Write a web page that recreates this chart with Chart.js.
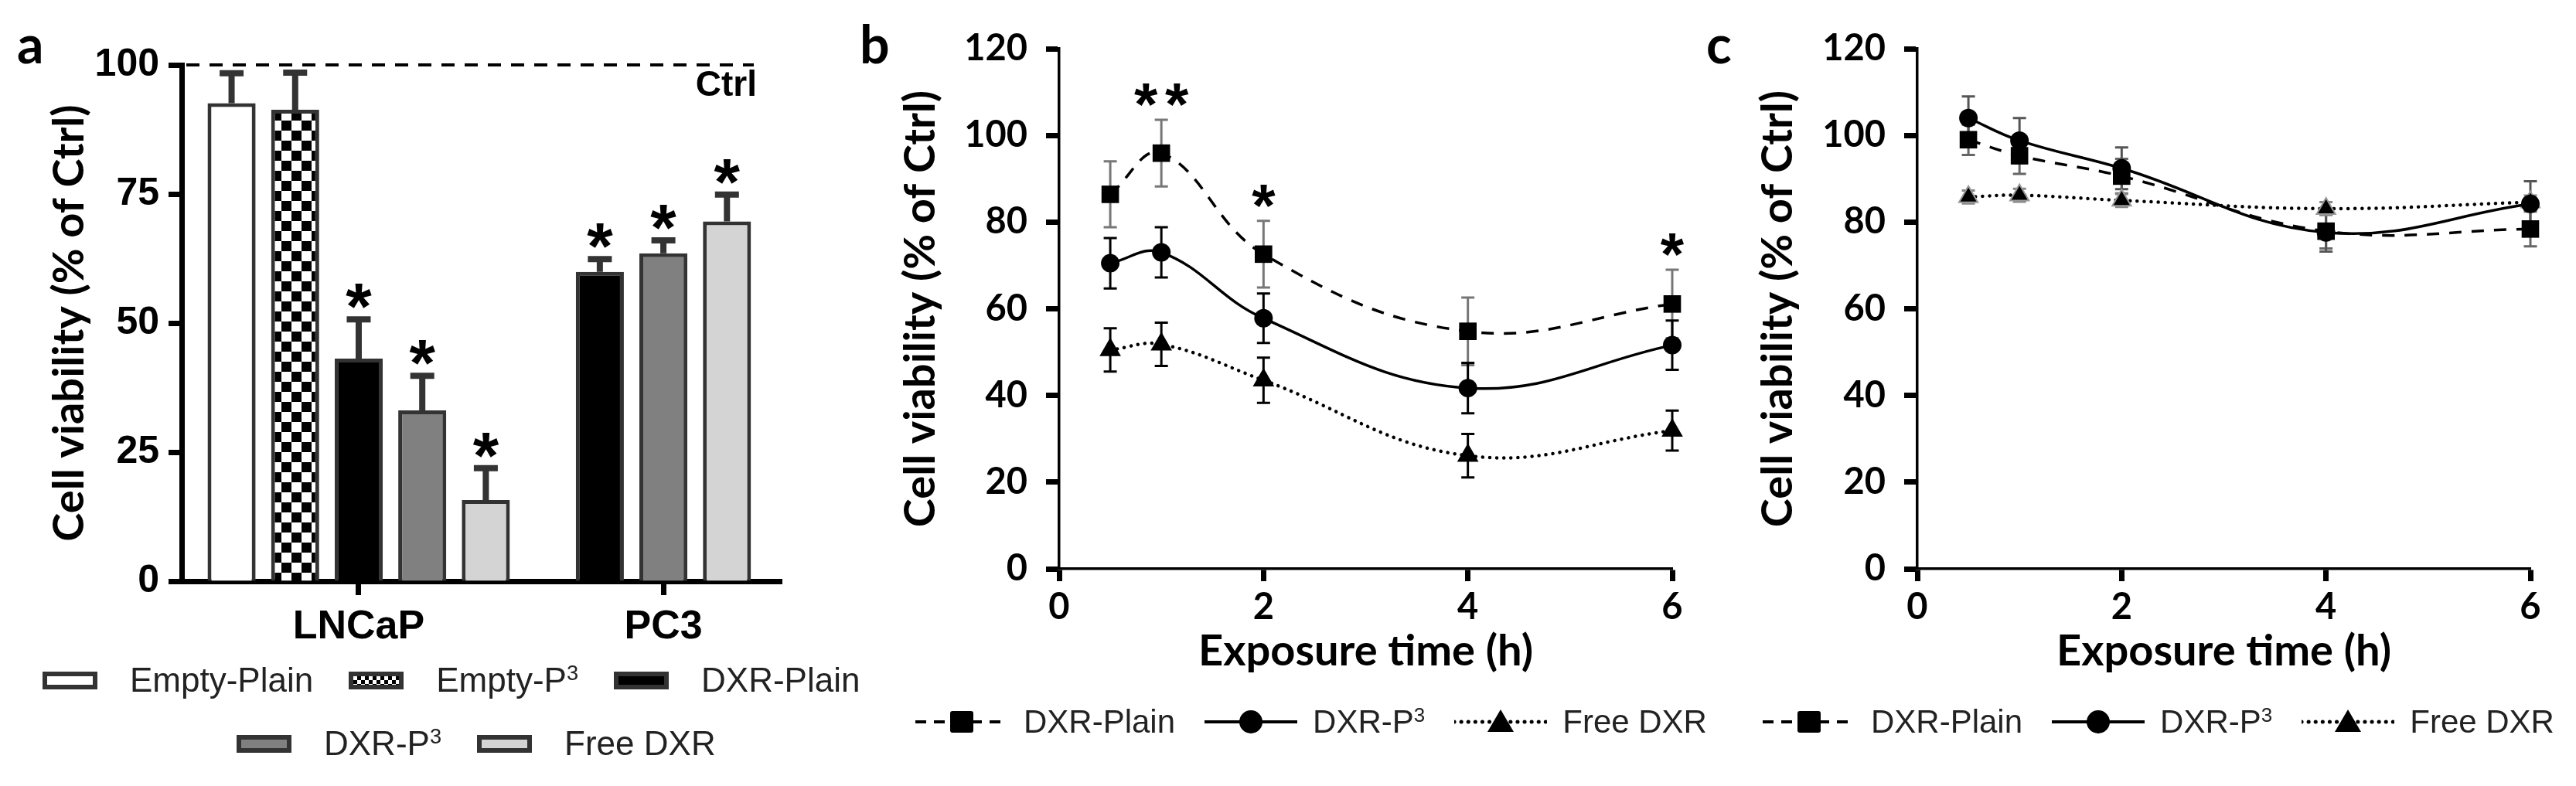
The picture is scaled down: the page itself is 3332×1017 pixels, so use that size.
<!DOCTYPE html>
<html>
<head>
<meta charset="utf-8">
<script src="https://cdn.jsdelivr.net/npm/chart.js@4.4.1/dist/chart.umd.min.js"></script>
<style>
  body { margin: 0; background: #fff; width: 3332px; height: 1017px; position: relative; overflow: hidden; }
  canvas { position: absolute; top: 0; }
  .tag { position: absolute; font: bold 68px Lato, sans-serif; line-height: 1; color: #000; }
  .leg { position: absolute; display: flex; align-items: center; white-space: nowrap; color: #222;
         font-family: 'Liberation Sans', Arial, sans-serif; height: 50px; }
  .leg sup { font-size: 0.62em; vertical-align: 0; position: relative; top: -0.55em; }
  .box { display: inline-block; width: 71px; height: 23px; box-sizing: border-box; border: 6px solid #333; margin-right: 42px; }
  .legA .txt { font-size: 44px; margin-right: 46px; }
  .legL .txt { font-size: 42px; margin-left: 20px; margin-right: 38px; }
</style>
</head>
<body>
<canvas id="chartA" width="1100" height="1017" style="left:0"></canvas>
<canvas id="chartB" width="1100" height="1017" style="left:1100px"></canvas>
<canvas id="chartC" width="1132" height="1017" style="left:2200px"></canvas>
<div class="tag" style="left:22px;top:22px">a</div>
<div class="tag" style="left:1112px;top:22px">b</div>
<div class="tag" style="left:2207px;top:22px">c</div>
<div id="legA1" class="leg legA" style="left:55px;top:855px"></div>
<div id="legA2" class="leg legA" style="left:306px;top:937px"></div>
<div id="legB" class="leg legL" style="left:1184px;top:909px"></div>
<div id="legC" class="leg legL" style="left:2280px;top:909px"></div>

<script>
// Panel a: viability per cell line
var categories = ["LNCaP", "PC3"];
var barSeries = ["Empty-Plain", "Empty-P3", "DXR-Plain", "DXR-P3", "Free DXR"];
var lncapMean = [92.6, 91.3, 43.1, 33.1, 15.7];
var lncapErr = [5.8, 7.2, 7.6, 6.7, 6.2];
var lncapStars = [0, 0, 1, 1, 1];
var pc3Series = ["DXR-Plain", "DXR-P3", "Free DXR"];
var pc3Mean = [59.9, 63.5, 69.7];
var pc3Err = [2.5, 2.5, 5.2];
var pc3Stars = [1, 1, 1];
var ctrlLevel = 100;

// Panels b and c: viability vs exposure time
var lineSeries = ["DXR-Plain", "DXR-P3", "Free DXR"];
var hours = [0.5, 1, 2, 4, 6];
var plainB = [86.4, 95.9, 72.6, 54.8, 61.1];
var plainErrB = [7.6, 7.7, 7.7, 7.8, 7.9];
var plainStarsB = [0, 2, 1, 0, 1];
var p3B = [70.5, 73.0, 57.8, 41.7, 51.6];
var p3ErrB = [5.8, 5.8, 5.7, 5.8, 5.7];
var freeB = [50.5, 51.8, 43.5, 26.1, 31.9];
var freeErrB = [5.0, 5.0, 5.2, 5.0, 4.6];
var plainC = [99.0, 95.3, 90.6, 77.9, 78.4];
var plainErrC = [3.5, 4.2, 4.0, 4.0, 4.0];
var p3C = [104.0, 98.8, 92.4, 77.6, 84.2];
var p3ErrC = [5.0, 5.2, 4.8, 4.4, 5.2];
var freeC = [85.8, 86.2, 85.0, 83.1, 84.6];
var freeErrC = [1.5, 1.5, 1.5, 1.5, 1.5];

var SANS = "'Liberation Sans', Arial, sans-serif";
var BOLD = "Lato, 'Open Sans', sans-serif";

Chart.defaults.color = "#000";
Chart.defaults.animation = false;

function supName(name) {
  return name.replace(/P3$/, "P<sup>3</sup>");
}

// error bars + asterisks, read from the datasets
function drawErrors(chart) {
  var ctx = chart.ctx;
  var y = chart.scales.y;
  chart.data.datasets.forEach(function (ds, i) {
    var meta = chart.getDatasetMeta(i);
    ds.data.forEach(function (v, j) {
      if (v === null || !ds.err || ds.err[j] == null) return;
      var el = meta.data[j];
      var top = y.getPixelForValue(v + ds.err[j]);
      var bottom = y.getPixelForValue(ds.errBoth ? v - ds.err[j] : v);
      var half = ds.capWidth / 2;
      ctx.save();
      ctx.strokeStyle = ds.errColor;
      ctx.lineWidth = ds.errWidth;
      ctx.beginPath();
      ctx.moveTo(el.x, top);
      ctx.lineTo(el.x, bottom);
      ctx.moveTo(el.x - half, top);
      ctx.lineTo(el.x + half, top);
      if (ds.errBoth) {
        ctx.moveTo(el.x - half, bottom);
        ctx.lineTo(el.x + half, bottom);
      }
      ctx.stroke();
      ctx.restore();
    });
  });
}

function drawStars(chart, fontSize, gap) {
  var ctx = chart.ctx;
  var y = chart.scales.y;
  ctx.save();
  ctx.font = "bold " + fontSize + "px " + SANS;
  ctx.fillStyle = "#000";
  ctx.textAlign = "center";
  ctx.textBaseline = "alphabetic";
  var m = ctx.measureText("*");
  var shift = (m.actualBoundingBoxAscent - m.actualBoundingBoxDescent) / 2;
  chart.data.datasets.forEach(function (ds, i) {
    if (!ds.stars) return;
    var meta = chart.getDatasetMeta(i);
    ds.stars.forEach(function (n, j) {
      if (!n || ds.data[j] === null) return;
      var el = meta.data[j];
      var cy = y.getPixelForValue(ds.data[j] + ds.err[j]) - gap;
      for (var k = 0; k < n; k++) {
        ctx.fillText("*", el.x + (k - (n - 1) / 2) * 40, cy + shift);
      }
    });
  });
  ctx.restore();
}

var errorBars = {
  id: "errorBars",
  beforeDatasetsDraw: function (chart) {
    if (chart.config.type === "line") drawErrors(chart);
  },
  afterDatasetsDraw: function (chart) {
    if (chart.config.type === "bar") {
      drawErrors(chart);
      drawStars(chart, 86, 30);
    } else {
      drawStars(chart, 78, 32);
    }
  }
};

var ctrlLine = {
  id: "ctrlLine",
  afterDatasetsDraw: function (chart) {
    var ctx = chart.ctx;
    var area = chart.chartArea;
    var yy = chart.scales.y.getPixelForValue(ctrlLevel);
    ctx.save();
    ctx.strokeStyle = "#000";
    ctx.lineWidth = 4;
    ctx.setLineDash([17, 13]);
    ctx.beginPath();
    ctx.moveTo(area.left + 6, yy);
    ctx.lineTo(area.right - 36, yy);
    ctx.stroke();
    ctx.setLineDash([]);
    ctx.font = "bold 46px " + SANS;
    ctx.textAlign = "right";
    ctx.textBaseline = "middle";
    ctx.fillStyle = "#000";
    ctx.fillText("Ctrl", area.right - 32, yy + 27);
    ctx.restore();
  }
};

// Opret graf a
var ctxA = document.getElementById("chartA").getContext("2d");

function checker() {
  var c = document.createElement("canvas");
  c.width = 26;
  c.height = 26;
  var g = c.getContext("2d");
  g.fillStyle = "#fff";
  g.fillRect(0, 0, 26, 26);
  g.fillStyle = "#000";
  g.fillRect(0, 0, 13, 13);
  g.fillRect(13, 13, 13, 13);
  return ctxA.createPattern(c, "repeat");
}

var barFill = ["#ffffff", checker(), "#000000", "#808080", "#d4d4d4"];
var legFill = ["#ffffff", "repeating-conic-gradient(#000 0 25%, #fff 0 50%) 0 0/10px 10px", "#000000", "#808080", "#d4d4d4"];

var datasetsA = barSeries.map(function (name, i) {
  return {
    label: name,
    data: [lncapMean[i], null],
    err: [lncapErr[i], null],
    stars: [lncapStars[i], 0],
    stack: "s" + i,
    backgroundColor: barFill[i],
    borderColor: "#333",
    borderWidth: 5,
    errColor: "#333",
    errWidth: 8,
    capWidth: 31
  };
});
// PC3 bars sit in the middle three slots
pc3Series.forEach(function (name, j) {
  var i = barSeries.indexOf(name);
  datasetsA.push({
    label: name,
    data: [null, pc3Mean[j]],
    err: [null, pc3Err[j]],
    stars: [0, pc3Stars[j]],
    stack: "s" + (j + 1),
    backgroundColor: barFill[i],
    borderColor: "#333",
    borderWidth: 5,
    errColor: "#333",
    errWidth: 8,
    capWidth: 31
  });
});

var chartA = new Chart(ctxA, {
  type: "bar",
  data: {
    labels: categories.map(function (c, i) { return i; }),
    datasets: datasetsA
  },
  options: {
    responsive: false,
    devicePixelRatio: 1,
    layout: { padding: { left: 0, top: 84, right: 89, bottom: 0 } },
    datasets: { bar: { categoryPercentage: 1.043, barPercentage: 0.756 } },
    plugins: { legend: { display: false }, tooltip: { enabled: false } },
    scales: {
      x: {
        type: "linear",
        min: -0.581,
        max: 1.388,
        offset: false,
        z: 1,
        afterBuildTicks: function (axis) {
          axis.ticks = categories.map(function (c, i) { return { value: i }; });
        },
        afterFit: function (s) { s.height = 265; },
        border: { display: true, color: "#000", width: 7 },
        grid: { offset: false, drawOnChartArea: false, tickLength: 18, tickWidth: 7, tickColor: "#000" },
        ticks: {
          maxRotation: 0,
          autoSkip: false,
          padding: 10,
          color: "#000",
          font: { family: SANS, size: 52, weight: "bold" },
          callback: function (v) { return categories[v]; }
        }
      },
      y: {
        min: 0,
        max: 100,
        afterFit: function (s) { s.width = 235; },
        border: { display: true, color: "#000", width: 7 },
        grid: { drawOnChartArea: false, tickLength: 17, tickWidth: 7, tickColor: "#000" },
        ticks: { stepSize: 25, padding: 12, color: "#000", font: { family: SANS, size: 50, weight: "bold" } },
        title: {
          display: true,
          text: "Cell viability (% of Ctrl)",
          color: "#000",
          font: { family: BOLD, size: 56, weight: "bold" },
          padding: { top: 56, bottom: 0 }
        }
      }
    }
  },
  plugins: [errorBars, ctrlLine]
});

// Legende a
function legendA(el, idx) {
  el.innerHTML = idx.map(function (i) {
    return '<span class="box" style="background:' + legFill[i] + '"></span><span class="txt">' + supName(barSeries[i]) + "</span>";
  }).join("");
}
legendA(document.getElementById("legA1"), [0, 1, 2]);
legendA(document.getElementById("legA2"), [3, 4]);

// Graf b og c
var lineDash = [[16, 13], [], [0.1, 9]];
var lineMarker = ["rect", "circle", "triangle"];
var markerRadius = [16, 12, 14];

function lineDatasets(values, errs, stars, errColors, triEdge) {
  return lineSeries.map(function (name, i) {
    return {
      label: name,
      data: values[i],
      err: errs[i],
      stars: stars[i],
      errBoth: true,
      errColor: errColors[i],
      errWidth: 3,
      capWidth: 17,
      borderColor: "#000",
      borderWidth: i === 2 ? 4.5 : 3.5,
      borderDash: lineDash[i],
      borderCapStyle: i === 2 ? "round" : "butt",
      tension: 0.4,
      clip: false,
      pointStyle: lineMarker[i],
      pointRadius: markerRadius[i],
      pointBackgroundColor: "#000",
      pointBorderColor: i === 2 ? triEdge : "#000",
      pointBorderWidth: i === 2 ? 2 : 0
    };
  });
}

function lineOptions(yWidth, padRight, yTitlePad) {
  return {
    responsive: false,
    devicePixelRatio: 1,
    layout: { padding: { left: 0, top: 63, right: padRight, bottom: 0 } },
    plugins: { legend: { display: false }, tooltip: { enabled: false } },
    scales: {
      x: {
        type: "linear",
        min: 0,
        max: 6,
        afterFit: function (s) { s.height = 281; },
        border: { display: true, color: "#000", width: 3.5 },
        grid: { drawOnChartArea: false, tickLength: 16, tickWidth: 7, tickColor: "#000" },
        ticks: { stepSize: 2, maxRotation: 0, padding: 6, color: "#000", font: { family: BOLD, size: 47, weight: "bold" } },
        title: {
          display: true,
          text: "Exposure time (h)",
          color: "#000",
          font: { family: BOLD, size: 56, weight: "bold" },
          padding: { top: 0, bottom: 140 }
        }
      },
      y: {
        min: 0,
        max: 120,
        afterFit: function (s) { s.width = yWidth; },
        border: { display: true, color: "#000", width: 3.5 },
        grid: { drawOnChartArea: false, tickLength: 17, tickWidth: 7, tickColor: "#000" },
        ticks: { stepSize: 20, padding: 24, color: "#000", font: { family: BOLD, size: 47, weight: "bold" } },
        title: {
          display: true,
          text: "Cell viability (% of Ctrl)",
          color: "#000",
          font: { family: BOLD, size: 56, weight: "bold" },
          padding: { top: yTitlePad, bottom: 0 }
        }
      }
    }
  };
}

var chartB = new Chart(document.getElementById("chartB").getContext("2d"), {
  type: "line",
  data: {
    labels: hours,
    datasets: lineDatasets(
      [plainB, p3B, freeB],
      [plainErrB, p3ErrB, freeErrB],
      [plainStarsB, null, null],
      ["#777", "#000", "#000"],
      "#000"
    )
  },
  options: lineOptions(270, 37, 57),
  plugins: [errorBars]
});

var chartC = new Chart(document.getElementById("chartC").getContext("2d"), {
  type: "line",
  data: {
    labels: hours,
    datasets: lineDatasets(
      [plainC, p3C, freeC],
      [plainErrC, p3ErrC, freeErrC],
      [null, null, null],
      ["#666", "#555", "#888"],
      "#999"
    )
  },
  options: lineOptions(280, 59, 66),
  plugins: [errorBars]
});

// Legende b og c
function lineSwatch(i) {
  var dash = i === 0 ? ' stroke-dasharray="14 10"' : i === 2 ? ' stroke-dasharray="0.1 9" stroke-linecap="round"' : "";
  var mark;
  if (i === 0) mark = '<rect x="45" y="6" width="30" height="28" rx="3" fill="#000"/>';
  else if (i === 1) mark = '<circle cx="60" cy="20" r="15" fill="#000"/>';
  else mark = '<polygon points="60,4 77,33 43,33" fill="#000"/>';
  return '<svg width="120" height="40" viewBox="0 0 120 40"><line x1="0" y1="20" x2="120" y2="20" stroke="#000" stroke-width="' +
    (i === 2 ? 5 : 4) + '"' + dash + "/>" + mark + "</svg>";
}
function legendLine(el) {
  el.innerHTML = lineSeries.map(function (name, i) {
    return lineSwatch(i) + '<span class="txt">' + supName(name) + "</span>";
  }).join("");
}
legendLine(document.getElementById("legB"));
legendLine(document.getElementById("legC"));
</script>
</body>
</html>
